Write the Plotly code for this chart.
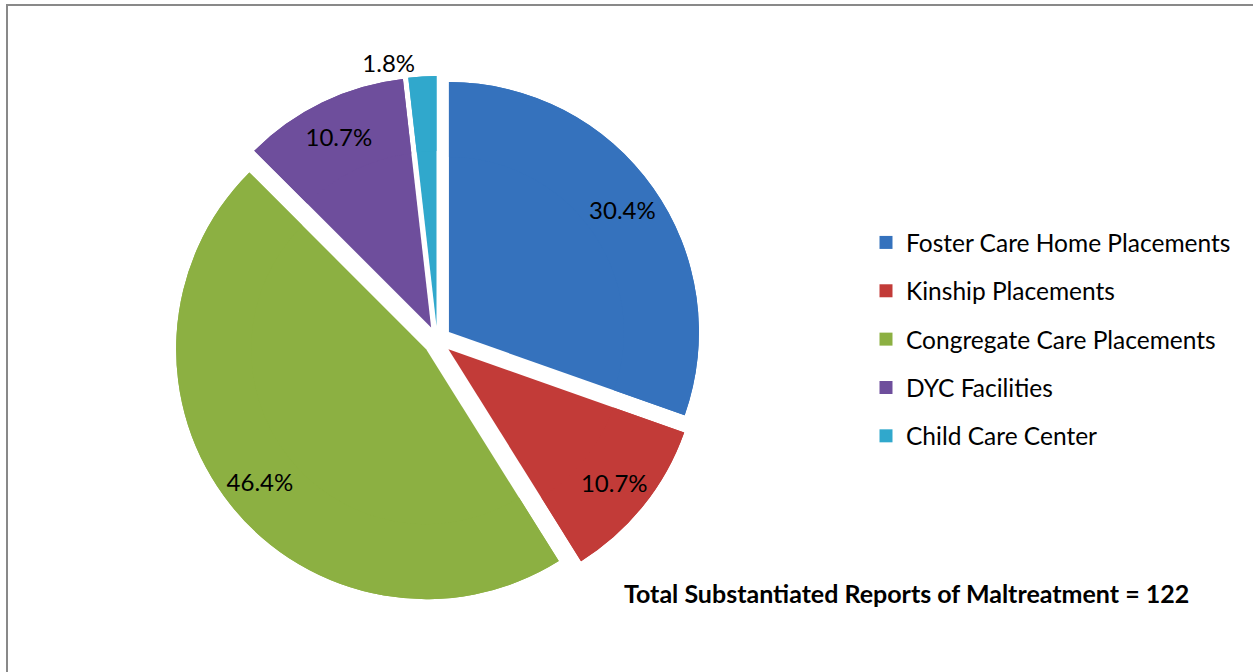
import plotly.graph_objects as go

categories = ["Foster Care Home Placements", "Kinship Placements",
              "Congregate Care Placements", "DYC Facilities", "Child Care Center"]
percent_values = [30.4, 10.7, 46.4, 10.7, 1.8]
colors = ["#3572BD", "#C23B38", "#8CB042", "#6E4E9C", "#30A8CC"]
label_positions = ["inside", "inside", "inside", "inside", "outside"]
total_note = "Total Substantiated Reports of Maltreatment = 122"

FONT = "Lato, 'Open Sans', sans-serif"
W, H = 1253, 672
cx_px, cy_px, r_px, pull = 437.3, 340.3, 250, 0.057
half = r_px * (1 + pull)
dom_x = [(cx_px - half - 20) / W, (cx_px + half + 20) / W]
dom_y = [1 - (cy_px + half) / H, 1 - (cy_px - half) / H]

fig = go.Figure()

# full pie body
fig.add_trace(go.Pie(
    labels=categories, values=percent_values, sort=False, direction="clockwise",
    rotation=0, pull=[pull] * len(categories), domain=dict(x=dom_x, y=dom_y),
    marker=dict(colors=colors, line=dict(width=0)), textinfo="none",
    showlegend=False, hoverinfo="label+percent"))

# ring overlay that carries the labels (places them near the rim)
fig.add_trace(go.Pie(
    labels=categories, values=percent_values, sort=False, direction="clockwise",
    rotation=0, pull=[pull] * len(categories), domain=dict(x=dom_x, y=dom_y),
    hole=0.7, marker=dict(colors=colors, line=dict(width=0)),
    texttemplate="%{percent:.1%}", textposition=label_positions,
    insidetextorientation="horizontal",
    textfont=dict(family=FONT, size=24, color="#000000"),
    showlegend=False, hoverinfo="skip"))

# legend entries
for i, (name, col) in enumerate(zip(categories, colors)):
    fig.add_trace(go.Scatter(
        x=[None], y=[None], mode="markers", name=name, legendgroup=f"g{i}",
        marker=dict(symbol="square", size=13, color=col)))

fig.add_annotation(text=f"<b>{total_note}</b>", x=906.5 / W, y=1 - 593 / H,
                   xref="paper", yref="paper", showarrow=False,
                   xanchor="center", yanchor="middle",
                   font=dict(family=FONT, size=25, color="#000000"))

fig.add_shape(type="rect", xref="paper", yref="paper",
              x0=7 / W, x1=1.02, y0=-0.02, y1=1 - 5 / H,
              line=dict(color="#898989", width=2), fillcolor="rgba(0,0,0,0)")

fig.update_layout(
    width=W, height=H, margin=dict(l=0, r=0, t=0, b=0),
    paper_bgcolor="white", plot_bgcolor="white",
    xaxis=dict(visible=False), yaxis=dict(visible=False),
    legend=dict(x=866 / W, xanchor="left", y=1 - 220 / H, yanchor="top",
                traceorder="grouped", tracegroupgap=13.5,
                font=dict(family=FONT, size=24.5, color="#000000"),
                bgcolor="rgba(0,0,0,0)"),
    font=dict(family=FONT),
)

fig.write_html("out.html", config={"displayModeBar": False},
               post_script="document.body.style.margin='0';document.body.style.overflow='hidden';")
